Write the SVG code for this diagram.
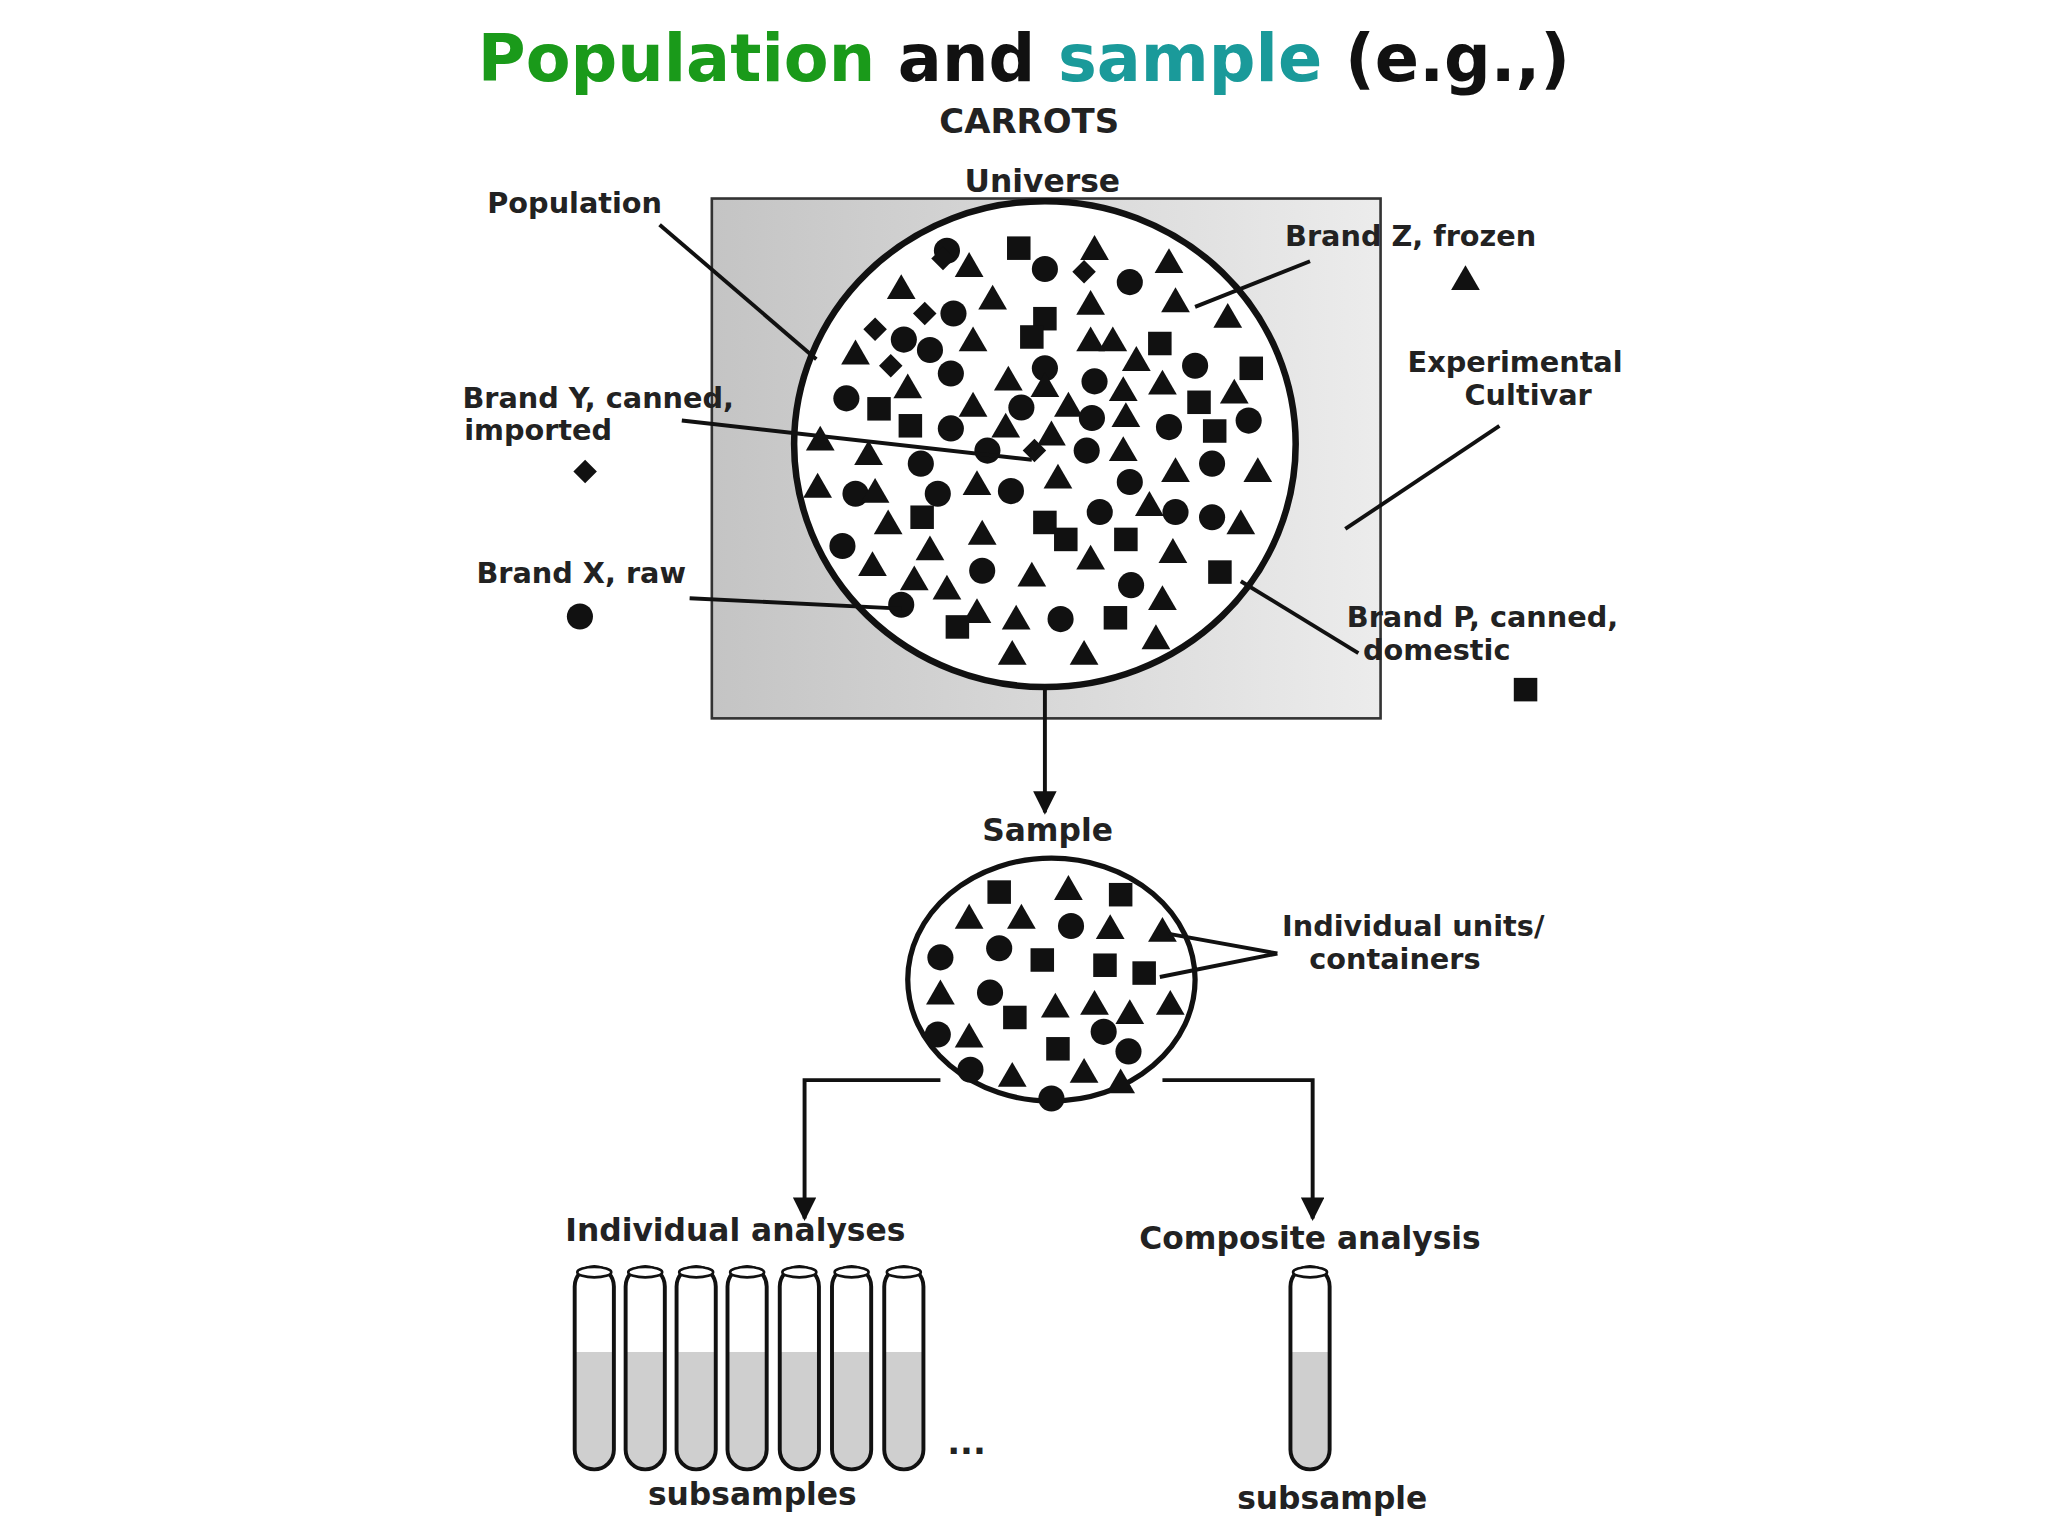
<svg xmlns="http://www.w3.org/2000/svg" xmlns:xlink="http://www.w3.org/1999/xlink" width="2048" height="1536" viewBox="0 0 2048 1536">
<style>
.l{font-family:"DejaVu Sans",sans-serif;font-weight:bold;font-size:22px;fill:#222;text-anchor:middle}
.ln{stroke:#111;stroke-width:3;fill:none}
</style>
<defs>
<linearGradient id="g" x1="0" x2="1"><stop offset="0" stop-color="#c4c4c4"/><stop offset="1" stop-color="#ececec"/></linearGradient>
<linearGradient id="tube" x1="0" x2="0" y1="0" y2="1"><stop offset="0.42" stop-color="#fff"/><stop offset="0.42" stop-color="#cfcfcf"/></linearGradient>
<g id="t"><polygon points="0,-10 11,9 -11,9" fill="#111"/></g>
<g id="s"><rect x="-9" y="-9" width="18" height="18" fill="#111"/></g>
<g id="c"><circle r="10" fill="#111"/></g>
<g id="d"><polygon points="0,-9 9,0 0,9 -9,0" fill="#111"/></g>
<marker id="a" viewBox="0 0 10 10" refX="9" refY="5" markerWidth="6" markerHeight="6" orient="auto" markerUnits="strokeWidth"><path d="M0,0 L10,5 L0,10 z" fill="#111"/></marker>
<g id="tb"><rect x="-15" y="0" width="30" height="155" rx="15" fill="url(#tube)" stroke="#111" stroke-width="3"/><ellipse cx="0" cy="4" rx="13" ry="4" fill="#fff" stroke="#111" stroke-width="2"/></g>
</defs>
<rect width="2048" height="1536" fill="#fff"/>
<g transform="scale(1.30612)">
<text x="784" y="62" font-family="DejaVu Sans,sans-serif" font-weight="bold" font-size="50" text-anchor="middle"><tspan fill="#1a9a1a">Population</tspan><tspan fill="#111"> and </tspan><tspan fill="#1a9a9a">sample</tspan><tspan fill="#111"> (e.g.,)</tspan></text>
<text class="l" x="788" y="102" style="font-size:26px">CARROTS</text>
<g id="universe">
<rect x="545" y="152" width="512" height="398" fill="url(#g)" stroke="#333" stroke-width="2"/>
<text class="l" x="798" y="147" style="font-size:24px">Universe</text>
<ellipse cx="800" cy="340" rx="192" ry="186" fill="#fff" stroke="#111" stroke-width="5"/>
<g>
<use href="#c" x="725" y="192"/><use href="#s" x="780" y="190"/><use href="#t" x="838" y="190"/><use href="#c" x="800" y="206"/><use href="#t" x="895" y="200"/><use href="#d" x="722" y="198"/><use href="#t" x="742" y="203"/>
<use href="#t" x="690" y="220"/><use href="#d" x="830" y="208"/><use href="#c" x="865" y="216"/><use href="#t" x="760" y="228"/><use href="#t" x="835" y="232"/><use href="#t" x="900" y="230"/><use href="#d" x="708" y="240"/><use href="#c" x="730" y="240"/>
<use href="#d" x="670" y="252"/><use href="#c" x="692" y="260"/><use href="#s" x="800" y="244"/><use href="#t" x="940" y="242"/><use href="#t" x="745" y="260"/><use href="#s" x="790" y="258"/><use href="#t" x="835" y="260"/><use href="#t" x="852" y="260"/><use href="#s" x="888" y="263"/>
<use href="#t" x="655" y="270"/><use href="#c" x="712" y="268"/><use href="#d" x="682" y="280"/><use href="#c" x="728" y="286"/><use href="#t" x="772" y="290"/><use href="#c" x="800" y="282"/><use href="#t" x="870" y="275"/><use href="#c" x="915" y="280"/><use href="#s" x="958" y="282"/>
<use href="#t" x="695" y="296"/><use href="#t" x="800" y="295"/><use href="#c" x="838" y="292"/><use href="#t" x="860" y="298"/><use href="#t" x="890" y="293"/>
<use href="#c" x="648" y="305"/><use href="#s" x="673" y="313"/><use href="#t" x="745" y="310"/><use href="#c" x="782" y="312"/><use href="#t" x="818" y="310"/><use href="#s" x="918" y="308"/><use href="#t" x="945" y="300"/>
<use href="#s" x="697" y="326"/><use href="#c" x="728" y="328"/><use href="#t" x="770" y="326"/><use href="#c" x="836" y="320"/><use href="#t" x="862" y="318"/><use href="#c" x="895" y="327"/><use href="#s" x="930" y="330"/><use href="#c" x="956" y="322"/>
<use href="#t" x="628" y="336"/><use href="#t" x="665" y="347"/><use href="#c" x="705" y="355"/><use href="#c" x="756" y="345"/><use href="#d" x="792" y="345"/><use href="#t" x="805" y="332"/><use href="#c" x="832" y="345"/><use href="#t" x="860" y="344"/>
<use href="#t" x="626" y="372"/><use href="#c" x="655" y="378"/><use href="#t" x="670" y="376"/><use href="#c" x="718" y="378"/><use href="#t" x="748" y="370"/><use href="#c" x="774" y="376"/><use href="#t" x="810" y="365"/><use href="#c" x="865" y="369"/><use href="#t" x="900" y="360"/><use href="#c" x="928" y="355"/><use href="#t" x="963" y="360"/>
<use href="#c" x="645" y="418"/><use href="#t" x="680" y="400"/><use href="#s" x="706" y="396"/><use href="#t" x="752" y="408"/><use href="#s" x="800" y="400"/><use href="#s" x="816" y="413"/><use href="#c" x="842" y="392"/><use href="#t" x="880" y="386"/><use href="#c" x="900" y="392"/><use href="#c" x="928" y="396"/><use href="#t" x="950" y="400"/>
<use href="#t" x="668" y="432"/><use href="#t" x="712" y="420"/><use href="#c" x="752" y="437"/><use href="#t" x="790" y="440"/><use href="#t" x="835" y="427"/><use href="#s" x="862" y="413"/><use href="#c" x="866" y="448"/><use href="#t" x="898" y="422"/><use href="#s" x="934" y="438"/>
<use href="#t" x="700" y="443"/><use href="#t" x="725" y="450"/><use href="#c" x="690" y="463"/><use href="#t" x="748" y="468"/><use href="#c" x="812" y="474"/><use href="#t" x="778" y="473"/><use href="#s" x="854" y="473"/><use href="#t" x="890" y="458"/>
<use href="#s" x="733" y="480"/><use href="#t" x="775" y="500"/><use href="#t" x="830" y="500"/><use href="#t" x="885" y="488"/>
</g>
</g>
<g id="labels-top">
<text class="l" x="440" y="163">Population</text>
<text class="l" x="458" y="312">Brand Y, canned,</text><text class="l" x="412" y="337">imported</text>
<use href="#d" x="448" y="361"/>
<text class="l" x="445" y="446">Brand X, raw</text>
<use href="#c" x="444" y="472"/>
<text class="l" x="1080" y="188">Brand Z, frozen</text>
<use href="#t" x="1122" y="213"/>
<text class="l" x="1160" y="285">Experimental</text><text class="l" x="1170" y="310">Cultivar</text>
<text class="l" x="1135" y="480">Brand P, canned,</text><text class="l" x="1100" y="505">domestic</text>
<use href="#s" x="1168" y="528"/>
</g>
<g id="sample">
<text class="l" x="802" y="644" style="font-size:24px">Sample</text>
<ellipse cx="805" cy="750" rx="110" ry="93" fill="#fff" stroke="#111" stroke-width="4"/>
<use href="#s" x="765" y="683"/><use href="#t" x="818" y="680"/><use href="#s" x="858" y="685"/>
<use href="#t" x="742" y="702"/><use href="#t" x="782" y="702"/><use href="#c" x="820" y="709"/><use href="#t" x="850" y="710"/><use href="#t" x="890" y="712"/>
<use href="#c" x="720" y="733"/><use href="#c" x="765" y="726"/><use href="#s" x="798" y="735"/><use href="#s" x="846" y="739"/><use href="#s" x="876" y="745"/>
<use href="#t" x="720" y="760"/><use href="#c" x="758" y="760"/><use href="#s" x="777" y="779"/><use href="#t" x="808" y="770"/><use href="#t" x="838" y="768"/><use href="#t" x="865" y="775"/><use href="#t" x="896" y="768"/>
<use href="#c" x="718" y="792"/><use href="#t" x="742" y="793"/><use href="#s" x="810" y="803"/><use href="#c" x="864" y="805"/><use href="#c" x="845" y="790"/>
<use href="#c" x="743" y="819"/><use href="#t" x="775" y="823"/><use href="#t" x="830" y="820"/><use href="#t" x="858" y="828"/><use href="#c" x="805" y="841"/>
<text class="l" x="1082" y="717">Individual units/</text><text class="l" x="1068" y="742">containers</text>
</g>
<g id="analyses">
<text class="l" x="563" y="950" style="font-size:24px">Individual analyses</text>
<text class="l" x="1003" y="956" style="font-size:24px">Composite analysis</text>
<use href="#tb" x="455" y="970"/><use href="#tb" x="494" y="970"/><use href="#tb" x="533" y="970"/><use href="#tb" x="572" y="970"/><use href="#tb" x="612" y="970"/><use href="#tb" x="652" y="970"/><use href="#tb" x="692" y="970"/>
<text class="l" x="740" y="1113" style="font-size:26px">...</text>
<text class="l" x="576" y="1152" style="font-size:24px">subsamples</text>
<use href="#tb" x="1003" y="970"/>
<text class="l" x="1020" y="1155" style="font-size:24px">subsample</text>
</g>
<g id="connectors">
<path class="ln" d="M505,172 L625,275"/>
<path class="ln" d="M522,322 L790,352"/>
<path class="ln" d="M528,458 L690,466"/>
<path class="ln" d="M1003,200 L915,235"/>
<path class="ln" d="M1148,326 L1030,405"/>
<path class="ln" d="M1040,500 L950,445"/>
<path class="ln" d="M978,730 L895,715 M978,730 L888,748"/>
<path class="ln" d="M800,526 L800,622" marker-end="url(#a)"/>
<path class="ln" d="M720,827 L616,827 L616,933" marker-end="url(#a)"/>
<path class="ln" d="M890,827 L1005,827 L1005,933" marker-end="url(#a)"/>
</g>
</g>
</svg>
